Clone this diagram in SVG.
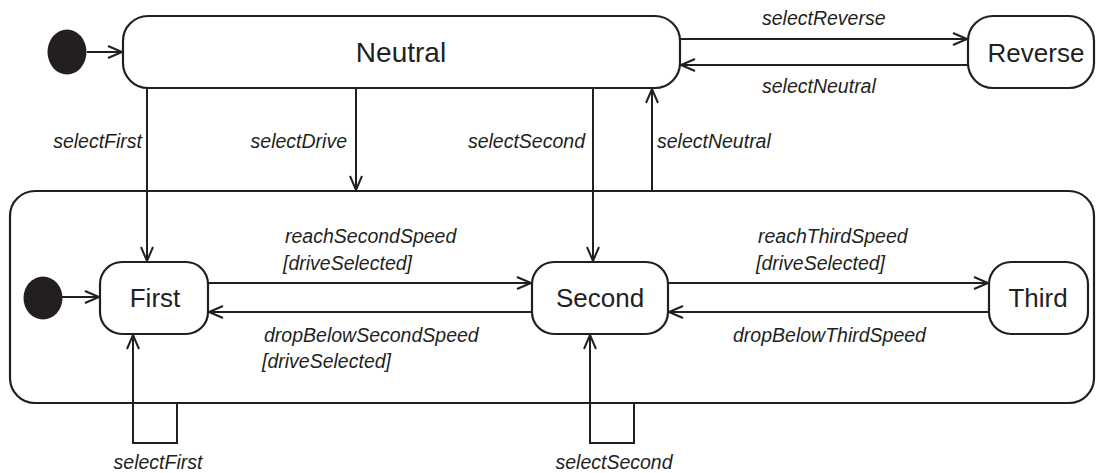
<svg xmlns="http://www.w3.org/2000/svg" width="1097" height="473" viewBox="0 0 1097 473">
<style>
.box{fill:#fff;stroke:#231f20;stroke-width:2.2}
.comp{fill:none;stroke:#231f20;stroke-width:2.2}
.init{fill:#231f20}
.edge{fill:none;stroke:#231f20;stroke-width:2}
.name{font-family:"Liberation Sans",Arial,sans-serif;font-size:26px;fill:#231f20;text-anchor:middle}
.lbl{font-family:"Liberation Sans",Arial,sans-serif;font-size:19.5px;font-style:italic;fill:#231f20}
.end{text-anchor:end}
.mid{text-anchor:middle}
</style>
<defs>
<marker id="arr" markerUnits="userSpaceOnUse" markerWidth="18" markerHeight="16" viewBox="0 0 18 16" refX="16" refY="8" orient="auto">
<path d="M2,2 L16,8 L2,14" fill="none" stroke="#231f20" stroke-width="2"/>
</marker>
</defs>
<rect width="1097" height="473" fill="#fff"/>
<g id="composite">
<rect class="comp" x="10" y="191" width="1084" height="212" rx="25" ry="25"/>
</g>
<g id="init1"><ellipse class="init" cx="67" cy="52" rx="19.5" ry="22.5"/></g>
<g id="init2"><ellipse class="init" cx="43" cy="298" rx="19.5" ry="21.5"/></g>
<g id="neutral">
<rect class="box" x="123" y="16" width="557" height="72" rx="25" ry="25"/>
<text class="name" x="401" y="62" style="font-size:28px">Neutral</text>
</g>
<g id="reverse">
<rect class="box" x="968" y="16" width="126" height="72" rx="25" ry="25"/>
<text class="name" x="1036" y="62">Reverse</text>
</g>
<g id="first">
<rect class="box" x="100" y="262" width="108" height="72" rx="22" ry="22"/>
<text class="name" x="155" y="307">First</text>
</g>
<g id="second">
<rect class="box" x="532" y="262" width="136" height="72" rx="22" ry="22"/>
<text class="name" x="600" y="307">Second</text>
</g>
<g id="third">
<rect class="box" x="989" y="262" width="99" height="72" rx="22" ry="22"/>
<text class="name" x="1038" y="307">Third</text>
</g>
<g id="connectors">
<path class="edge" d="M87,52 H122" marker-end="url(#arr)"/>
<path class="edge" d="M62,297 H99" marker-end="url(#arr)"/>
<path class="edge" d="M680,39 H967" marker-end="url(#arr)"/>
<path class="edge" d="M968,65 H681" marker-end="url(#arr)"/>
<path class="edge" d="M147,88 V261" marker-end="url(#arr)"/>
<path class="edge" d="M356,88 V190" marker-end="url(#arr)"/>
<path class="edge" d="M593,88 V261" marker-end="url(#arr)"/>
<path class="edge" d="M652,191 V89" marker-end="url(#arr)"/>
<path class="edge" d="M208,283 H531" marker-end="url(#arr)"/>
<path class="edge" d="M532,312 H209" marker-end="url(#arr)"/>
<path class="edge" d="M668,283 H988" marker-end="url(#arr)"/>
<path class="edge" d="M989,312 H669" marker-end="url(#arr)"/>
<path class="edge" d="M177,403 V443 H133 V335" marker-end="url(#arr)"/>
<path class="edge" d="M634,403 V443 H590 V335" marker-end="url(#arr)"/>
</g>
<g id="labels">
<text class="lbl" x="762" y="25">selectReverse</text>
<text class="lbl" x="762" y="93">selectNeutral</text>
<text class="lbl end" x="142" y="148">selectFirst</text>
<text class="lbl end" x="347" y="148">selectDrive</text>
<text class="lbl end" x="585" y="148">selectSecond</text>
<text class="lbl" x="657" y="148">selectNeutral</text>
<text class="lbl" x="285" y="243">reachSecondSpeed</text>
<text class="lbl" x="283" y="270">[driveSelected]</text>
<text class="lbl" x="264" y="342">dropBelowSecondSpeed</text>
<text class="lbl" x="262" y="368">[driveSelected]</text>
<text class="lbl" x="758" y="243">reachThirdSpeed</text>
<text class="lbl" x="756" y="270">[driveSelected]</text>
<text class="lbl" x="733" y="342">dropBelowThirdSpeed</text>
<text class="lbl mid" x="158" y="469">selectFirst</text>
<text class="lbl mid" x="614" y="469">selectSecond</text>
</g>
</svg>
